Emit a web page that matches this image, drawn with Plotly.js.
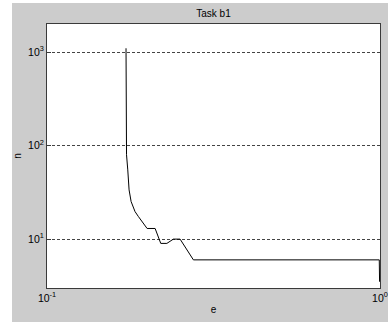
<!DOCTYPE html>
<html>
<head>
<meta charset="utf-8">
<script src="https://cdn.plot.ly/plotly-3.0.1.min.js"></script>
<style>
html,body{margin:0;padding:0;background:#ffffff;}
#chart{position:absolute;left:12px;top:3px;width:376px;height:319px;}
</style>
</head>
<body>
<div id="chart"></div>
<script>
// Data
const eValues = [0.1727, 0.1733, 0.1748, 0.1764, 0.1789, 0.1838, 0.1880, 0.1948, 0.1998, 0.2112, 0.2196, 0.2291, 0.2396, 0.2510, 0.2752, 0.995, 0.997];
const nValues = [1100, 80, 55, 33.6, 25.2, 19.7, 17.5, 14.8, 13, 13, 9, 9, 10, 10, 6, 6, 3.5];
const xTickVals = [0.1, 1];
const xTickText = ["10<sup>-1</sup>", "10<sup>0</sup>"];
const yTickVals = [10, 100, 1000];
const yTickText = ["10<sup>1</sup>", "10<sup>2</sup>", "10<sup>3</sup>"];
const chartTitle = "Task b1";
const xLabel = "e";
const yLabel = "n";

const trace = {
  x: eValues,
  y: nValues,
  type: "scatter",
  mode: "lines",
  line: {color: "#000000", width: 1},
  hoverinfo: "skip"
};

const labelFont = {family: "Liberation Sans, Arial, sans-serif", size: 10, color: "#000000"};
const tickFont = {family: "Liberation Sans, Arial, sans-serif", size: 10.5, color: "#000000"};

const layout = {
  width: 376,
  height: 319,
  paper_bgcolor: "#cccccc",
  plot_bgcolor: "#ffffff",
  margin: {l: 35, r: 8, t: 21, b: 34},
  showlegend: false,
  title: {
    text: chartTitle,
    font: {family: "Liberation Sans, Arial, sans-serif", size: 10, color: "#000000"},
    x: 0.5, xanchor: "center", xref: "paper",
    y: 1, yanchor: "top", yref: "container", pad: {t: 7}
  },
  xaxis: {
    type: "log",
    range: [-1, 0],
    tickmode: "array",
    tickvals: xTickVals,
    ticktext: xTickText,
    ticklabeloverflow: "allow",
    showgrid: false,
    zeroline: false,
    showline: true,
    mirror: true,
    linecolor: "#3a3a3a",
    linewidth: 1,
    ticks: "inside",
    ticklen: 4,
    tickcolor: "#3a3a3a",
    tickfont: tickFont,
    title: {text: xLabel, font: labelFont, standoff: 3}
  },
  yaxis: {
    type: "log",
    range: [Math.log10(3), Math.log10(2000)],
    tickmode: "array",
    tickvals: yTickVals,
    ticktext: yTickText,
    showgrid: true,
    gridcolor: "#444444",
    gridwidth: 1,
    griddash: "3px,2px",
    zeroline: false,
    showline: true,
    mirror: true,
    linecolor: "#3a3a3a",
    linewidth: 1,
    ticks: "inside",
    ticklen: 4,
    tickcolor: "#3a3a3a",
    tickfont: tickFont,
    title: {text: yLabel, font: labelFont, standoff: 4}
  }
};

Plotly.newPlot("chart", [trace], layout, {staticPlot: true, displayModeBar: false});
</script>
</body>
</html>
